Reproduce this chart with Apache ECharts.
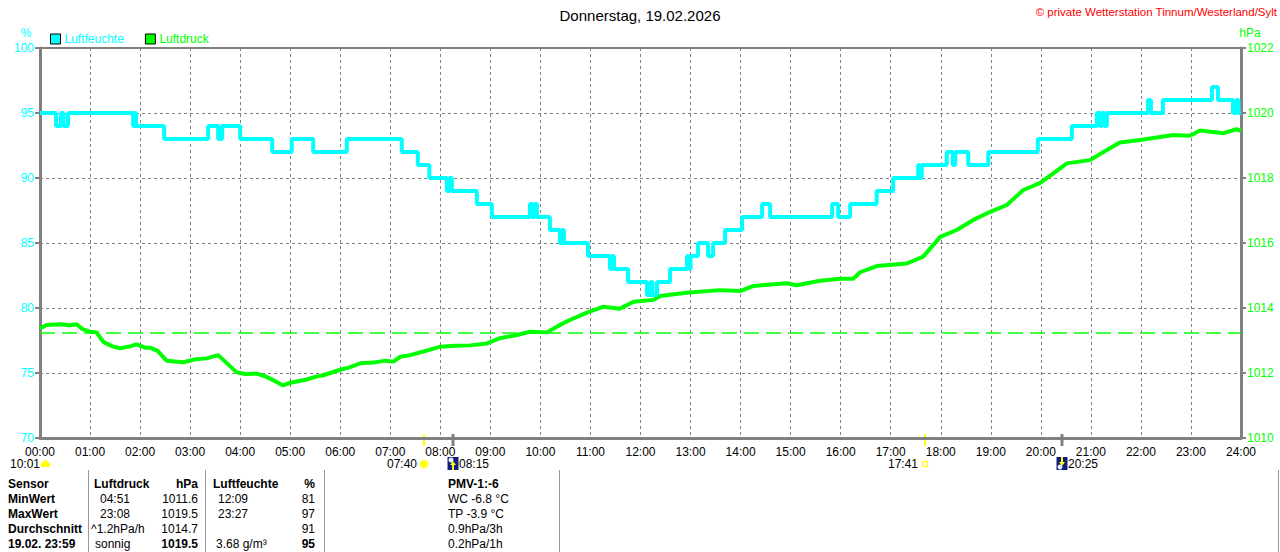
<!DOCTYPE html>
<html lang="de">
<head>
<meta charset="UTF-8">
<title>Luftfeuchte / Luftdruck 19.02.2026</title>
<script src="https://cdn.jsdelivr.net/npm/echarts@6.0.0/dist/echarts.min.js"></script>
<style>
  html, body { margin: 0; padding: 0; background: #fff; }
  #chart { width: 1280px; height: 552px; }
</style>
</head>
<body>
<div id="chart"></div>
<script>
// Luftfeuchte (%) - Stufen: Wert gilt ab Uhrzeit (Stunden)
const humTime = [0, 0.32, 0.42, 0.47, 0.56, 1.86, 1.89, 1.92, 2.48, 3.36, 3.56, 3.64, 4.0, 4.64, 5.03, 5.46, 6.13,
  7.23, 7.55, 7.78, 8.13, 8.18, 8.23, 8.73, 9.03, 9.79, 9.84, 9.88, 9.93, 10.19, 10.39, 10.43, 10.47, 10.95,
  11.39, 11.43, 11.47, 11.75, 12.13, 12.2, 12.24, 12.33, 12.59, 12.93, 12.97, 13.0, 13.15, 13.35, 13.45,
  13.69, 14.03, 14.43, 14.59, 15.83, 15.95, 16.19, 16.72, 17.05, 17.55, 17.58, 17.62, 18.12, 18.24, 18.29,
  18.55, 18.95, 19.94, 20.62, 21.12, 21.18, 21.22, 21.27, 21.32, 22.14, 22.2, 22.44, 23.42, 23.54, 23.84,
  23.9, 23.95, 24];
const humVal = [95, 94, 95, 94, 95, 94, 95, 94, 93, 94, 93, 94, 93, 92, 93, 92, 93,
  92, 91, 90, 89, 90, 89, 88, 87, 88, 87, 88, 87, 86, 85, 86, 85, 84,
  83, 84, 83, 82, 81, 82, 81, 82, 83, 84, 83, 84, 85, 84, 85,
  86, 87, 88, 87, 88, 87, 88, 89, 90, 91, 90, 91, 92, 91, 92,
  91, 92, 93, 94, 95, 94, 95, 94, 95, 96, 95, 96, 97, 96, 95,
  96, 95, 95];

// Luftdruck (hPa)
const presTime = [0, 0.13, 0.4, 0.6, 0.73, 0.85, 1.0, 1.13, 1.27, 1.45, 1.6, 1.8, 1.93, 2.1, 2.2, 2.35, 2.53,
  2.86, 3.1, 3.33, 3.56, 3.7, 3.93, 4.1, 4.33, 4.5, 4.66, 4.85, 5.0, 5.33, 5.5, 5.66, 6.0, 6.2, 6.4, 6.66,
  6.9, 7.06, 7.2, 7.4, 7.66, 8.0, 8.3, 8.6, 8.93, 9.19, 9.53, 9.79, 10.13, 10.39, 10.59, 10.93, 11.26,
  11.59, 11.86, 12.26, 12.39, 12.92, 13.59, 13.99, 14.26, 14.92, 15.12, 15.59, 15.99, 16.25, 16.39, 16.72,
  17.32, 17.65, 17.99, 18.32, 18.65, 18.99, 19.32, 19.65, 19.98, 20.25, 20.52, 20.98, 21.32, 21.58, 21.98,
  22.65, 22.98, 23.18, 23.65, 23.91, 24];
const presVal = [1013.37, 1013.48, 1013.5, 1013.47, 1013.5, 1013.35, 1013.27, 1013.25, 1012.95, 1012.82,
  1012.76, 1012.82, 1012.88, 1012.78, 1012.78, 1012.68, 1012.38, 1012.33, 1012.42, 1012.45, 1012.55,
  1012.35, 1012.02, 1011.97, 1011.98, 1011.9, 1011.78, 1011.62, 1011.7, 1011.8, 1011.88, 1011.93, 1012.1,
  1012.18, 1012.3, 1012.32, 1012.38, 1012.35, 1012.5, 1012.55, 1012.66, 1012.81, 1012.84, 1012.85,
  1012.91, 1013.07, 1013.17, 1013.27, 1013.25, 1013.48, 1013.63, 1013.86, 1014.04, 1013.98, 1014.19,
  1014.25, 1014.37, 1014.47, 1014.55, 1014.52, 1014.68, 1014.76, 1014.7, 1014.84, 1014.9, 1014.9,
  1015.1, 1015.29, 1015.37, 1015.58, 1016.19, 1016.4, 1016.71, 1016.96, 1017.17, 1017.63, 1017.84,
  1018.14, 1018.45, 1018.55, 1018.86, 1019.09, 1019.17, 1019.32, 1019.3, 1019.46, 1019.38, 1019.5,
  1019.45];

const refPressure = 1013.25;

// Sonne / Mond
const eventTime = [7 + 40 / 60, 8 + 15 / 60, 17 + 41 / 60, 20 + 25 / 60];
const eventLabel = ['07:40', '08:15', '17:41', '20:25'];
const eventKind = ['sunrise', 'moonrise', 'sunset', 'moonset'];
const sunHours = '10:01';

// Tabelle
const rowHeads = ['Sensor', 'MinWert', 'MaxWert', 'Durchschnitt', '19.02. 23:59'];
const presCol = ['Luftdruck', '04:51', '23:08', '^1.2hPa/h', 'sonnig'];
const presNum = ['hPa', '1011.6', '1019.5', '1014.7', '1019.5'];
const humCol = ['Luftfeuchte', '12:09', '23:27', '', '3.68 g/m³'];
const humNum = ['%', '81', '97', '91', '95'];
const extraCol = ['PMV-1:-6', 'WC -6.8 °C', 'TP -3.9 °C', '0.9hPa/3h', '0.2hPa/1h'];

const FONT = 'Liberation Sans, Arial, sans-serif';
const CYAN = '#00ffff';
const GREEN = '#00ff00';
const GRAY = '#808080';

const chart = echarts.init(document.getElementById('chart'), null, { renderer: 'svg' });

const pad2 = v => (v < 10 ? '0' : '') + v;

chart.setOption({
  animation: false,
  backgroundColor: '#fff',
  textStyle: { fontFamily: FONT },
  title: {
    text: 'Donnerstag, 19.02.2026',
    left: 'center',
    top: 3,
    textStyle: { fontSize: 15, fontWeight: 'normal', color: '#000', fontFamily: FONT }
  },
  legend: {
    left: 45,
    top: 28,
    icon: 'rect',
    itemWidth: 10,
    itemHeight: 10,
    itemGap: 21,
    selectedMode: false,
    itemStyle: { borderColor: '#000', borderWidth: 1 },
    textStyle: { fontSize: 12, fontFamily: FONT, padding: [0, 0, 0, -1] },
    data: [
      { name: 'Luftfeuchte', textStyle: { color: CYAN } },
      { name: 'Luftdruck', textStyle: { color: GREEN } }
    ]
  },
  grid: {
    left: 40, right: 39, top: 48, bottom: 114,
    show: true, borderColor: GRAY, borderWidth: 2
  },
  xAxis: {
    type: 'value',
    min: 0, max: 24, interval: 1,
    axisLine: { lineStyle: { color: GRAY, width: 3 } },
    axisTick: { show: false },
    axisLabel: {
      color: '#000', fontSize: 12, margin: 8, fontFamily: FONT,
      formatter: v => pad2(v) + ':00'
    },
    splitLine: { show: true, lineStyle: { color: GRAY, type: [3, 3], width: 1 } }
  },
  yAxis: [{
    type: 'value',
    min: 70, max: 100, interval: 5,
    axisLine: { show: true, lineStyle: { color: GRAY, width: 3 } },
    axisTick: { show: true, length: 5, lineStyle: { color: GRAY, width: 2 } },
    axisLabel: { color: CYAN, fontSize: 12, margin: 6, fontFamily: FONT, formatter: v => String(v) },
    splitLine: { show: true, lineStyle: { color: GRAY, type: [3, 3], width: 1 } }
  }, {
    type: 'value',
    position: 'right',
    min: 1010, max: 1022, interval: 2,
    axisLine: { show: true, lineStyle: { color: GRAY, width: 3 } },
    axisTick: { show: true, length: 5, lineStyle: { color: GRAY, width: 2 } },
    axisLabel: { color: GREEN, fontSize: 12, margin: 6, fontFamily: FONT, formatter: v => String(v) },
    splitLine: { show: false }
  }],
  series: [{
    name: 'Luftdruck',
    type: 'line',
    yAxisIndex: 1,
    showSymbol: false,
    color: GREEN,
    lineStyle: { color: GREEN, width: 4 },
    data: presTime.map((t, i) => [t, presVal[i]]),
    markLine: {
      silent: true,
      symbol: 'none',
      label: { show: false },
      lineStyle: { color: GREEN, type: [15, 7], width: 1.5 },
      data: [{ yAxis: refPressure }]
    },
    z: 2
  }, {
    name: 'Luftfeuchte',
    type: 'line',
    yAxisIndex: 0,
    step: 'end',
    showSymbol: false,
    color: CYAN,
    lineStyle: { color: CYAN, width: 4 },
    data: humTime.map((t, i) => [t, humVal[i]]),
    z: 3
  }]
});

// Zusatzgrafik: Einheiten, Copyright, Sonne/Mond, Tabelle
const g = [];
const txt = (x, y, text, opt) => g.push({
  type: 'text', x, y, silent: true,
  style: Object.assign({
    text, font: '12px ' + FONT, fill: '#000', textVerticalAlign: 'middle', verticalAlign: 'middle'
  }, opt || {})
});

txt(26, 33, '%', { fill: CYAN, align: 'center', textAlign: 'center' });
txt(1250, 33, 'hPa', { fill: GREEN, align: 'center', textAlign: 'center' });
txt(1277, 12, '© private Wetterstation Tinnum/Westerland/Sylt',
  { fill: '#ff0000', align: 'right', textAlign: 'right', font: '11.5px ' + FONT });

// Sonnenscheindauer
txt(10, 464, sunHours);
g.push({ type: 'circle', silent: true, shape: { cx: 45.5, cy: 463, r: 3 }, style: { fill: '#ffff00' } });
g.push({ type: 'rect', silent: true, shape: { x: 41, y: 463, width: 9, height: 4 }, style: { fill: '#ffff00' } });

const yAxisPx = chart.convertToPixel({ yAxisIndex: 0 }, 70);
eventTime.forEach((t, i) => {
  const x = Math.round(chart.convertToPixel({ xAxisIndex: 0 }, t));
  const kind = eventKind[i];
  const isSun = kind === 'sunrise' || kind === 'sunset';
  g.push({
    type: 'line', silent: true,
    shape: { x1: x, y1: yAxisPx - 4, x2: x, y2: yAxisPx + 8 },
    style: { stroke: isSun ? '#ffff00' : GRAY, lineWidth: isSun ? 2 : 3 }
  });
  if (kind === 'sunrise') {
    const cx = x, cy = 464;
    g.push({ type: 'circle', silent: true, shape: { cx, cy, r: 4 }, style: { fill: '#ffff00' } });
    for (let k = 0; k < 8; k++) {
      const a = k * Math.PI / 4;
      g.push({
        type: 'line', silent: true,
        shape: { x1: cx + Math.cos(a) * 5, y1: cy + Math.sin(a) * 5, x2: cx + Math.cos(a) * 6.5, y2: cy + Math.sin(a) * 6.5 },
        style: { stroke: '#ffff66', lineWidth: 1 }
      });
    }
    txt(x - 7, 464, eventLabel[i], { align: 'right', textAlign: 'right' });
  } else if (kind === 'sunset') {
    g.push({ type: 'rect', silent: true, shape: { x: x - 2.5, y: 461.5, width: 5, height: 5 },
      style: { fill: '#fff', stroke: '#ffff00', lineWidth: 1.2 } });
    txt(x - 7, 464, eventLabel[i], { align: 'right', textAlign: 'right' });
  } else {
    const up = kind === 'moonrise';
    g.push({ type: 'rect', silent: true, shape: { x: x - 5.5, y: 457, width: 11, height: 13 }, style: { fill: '#101c80' } });
    g.push({ type: 'circle', silent: true, shape: { cx: x - 2, cy: up ? 460 : 467, r: 2.5 }, style: { fill: '#e8eefc' } });
    g.push({
      type: 'polygon', silent: true,
      shape: {
        points: up
          ? [[x, 461], [x + 3, 465], [x + 1, 465], [x + 1, 470], [x - 1, 470], [x - 1, 465], [x - 3, 465]]
          : [[x, 466], [x + 3, 462], [x + 1, 462], [x + 1, 457], [x - 1, 457], [x - 1, 462], [x - 3, 462]]
      },
      style: { fill: '#ffff00' }
    });
    txt(x + 6, 464, eventLabel[i]);
  }
});

// Tabelle unten
const rowY = [484, 499, 514, 529, 544];
const presColX = [94, 100, 100, 91, 95];
const humColX = [213, 218, 218, 216, 216];
[88, 205, 324, 559, 1278].forEach(x => g.push({
  type: 'line', silent: true,
  shape: { x1: x + 0.5, y1: 470, x2: x + 0.5, y2: 552 },
  style: { stroke: '#999', lineWidth: 1 }
}));
const bold = '700 12px ' + FONT;
rowY.forEach((y, r) => {
  const head = r === 0;
  const last = r === rowY.length - 1;
  txt(8, y, rowHeads[r], { font: bold });
  txt(presColX[r], y, presCol[r], head ? { font: bold } : null);
  txt(198, y, presNum[r], { align: 'right', textAlign: 'right', font: (head || last) ? bold : '12px ' + FONT });
  txt(humColX[r], y, humCol[r], head ? { font: bold } : null);
  txt(315, y, humNum[r], { align: 'right', textAlign: 'right', font: (head || last) ? bold : '12px ' + FONT });
  txt(448, y, extraCol[r], head ? { font: bold } : null);
});

chart.setOption({ graphic: g });
</script>
</body>
</html>
